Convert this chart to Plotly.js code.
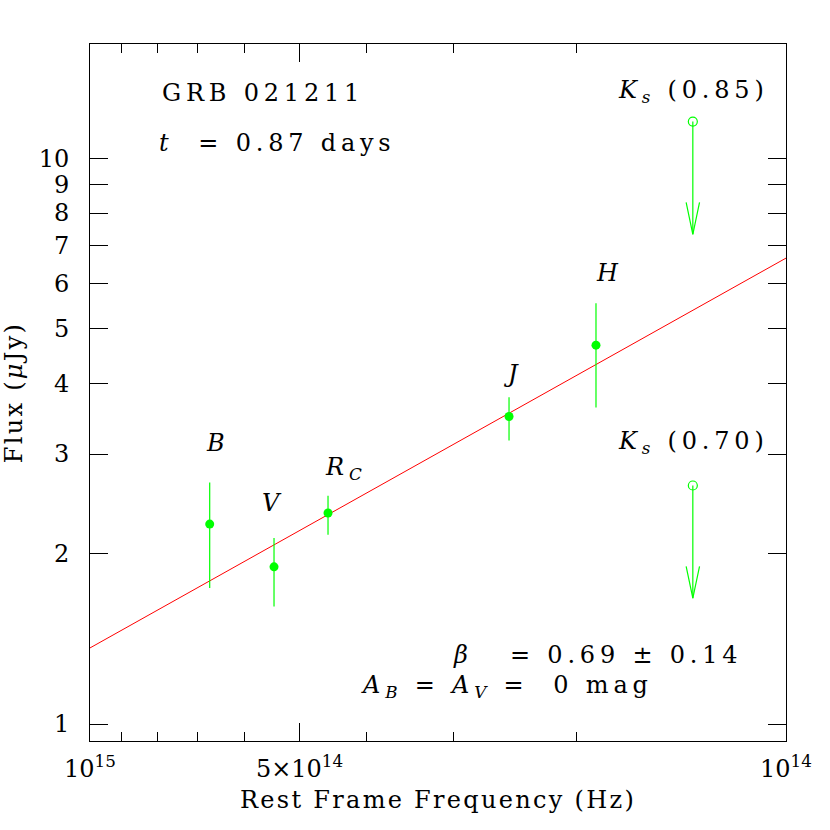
<!DOCTYPE html>
<html>
<head>
<meta charset="utf-8">
<script src="https://cdn.plot.ly/plotly-3.0.1.min.js"></script>
<style>
html, body { margin: 0; padding: 0; background: #ffffff; }
#chart { width: 830px; height: 830px; }
.annotation-text { letter-spacing: 4.8px; }
.xtitle, .ytitle { letter-spacing: 2.3px; }
</style>
</head>
<body>
<div id="chart"></div>
<script>
// ---- data ----
const bandNames = ['B', 'V', 'R<sub>C</sub>', 'J', 'H'];
const bandFreq = [6.73e14, 5.44e14, 4.55e14, 2.50e14, 1.875e14];   // Hz
const bandFlux = [2.256, 1.896, 2.360, 3.495, 4.673];              // microJy
const bandErrHi = [0.415, 0.235, 0.172, 0.287, 0.871];
const bandErrLo = [0.517, 0.282, 0.200, 0.324, 1.047];

const limitNames = ['(0.85)', '(0.70)'];
const limitFreq = [1.361e14, 1.361e14];
const limitFlux = [11.61, 2.640];

const fitFreq = [1e15, 1e14];
const fitFlux = [1.363, 6.66];

const yTickVals = [1, 2, 3, 4, 5, 6, 7, 8, 9, 10];
const xTickVals = [1e15, 5e14, 1e14];
const xTickText = ['10<sup>15</sup>', '5\u00d710<sup>14</sup>', '10<sup>14</sup>'];
const xMinorVals = [9e14, 8e14, 7e14, 6e14, 4e14, 3e14, 2e14];

const titleLine1 = 'GRB 021211';
const titleLine2 = '<i>t</i>\u00a0 = 0.87 days';
const betaText = '<i>\u03b2</i>\u00a0\u00a0 = 0.69 \u00b1 0.14';
const extText = '<i>A</i><sub><i>B</i></sub> = <i>A</i><sub><i>V</i></sub> =\u00a0 0 mag';

// ---- style ----
const FONT = 'DejaVu Serif, Liberation Serif, serif';
const FS = 24;
const GREEN = 'rgb(0,255,0)';
const ARROW_FACTOR = 0.632;     // length of upper-limit arrow (flux ratio)
const HEAD_Y = 1.139;           // arrow head height (flux ratio)
const HEAD_X = 1.0224;          // arrow head half width (freq ratio)

// arrow geometry built from the limit values
const arrX = [], arrY = [];
for (let i = 0; i < limitFreq.length; i++) {
  const f = limitFreq[i], v = limitFlux[i], tip = v * ARROW_FACTOR;
  arrX.push(f, f, null, f * HEAD_X, f, f / HEAD_X, null);
  arrY.push(v, tip, null, tip * HEAD_Y, tip, tip * HEAD_Y, null);
}

const traces = [
  { x: fitFreq, y: fitFlux, mode: 'lines', line: { color: 'rgb(255,0,0)', width: 1 },
    hoverinfo: 'skip', showlegend: false },
  { x: arrX, y: arrY, mode: 'lines', line: { color: GREEN, width: 1.2 },
    hoverinfo: 'skip', showlegend: false },
  { x: limitFreq, y: limitFlux, mode: 'markers',
    marker: { symbol: 'circle-open', size: 9, color: GREEN, line: { width: 1.2, color: GREEN } },
    showlegend: false },
  { x: bandFreq, y: bandFlux, mode: 'markers',
    marker: { symbol: 'circle', size: 9, color: GREEN },
    error_y: { type: 'data', symmetric: false, array: bandErrHi, arrayminus: bandErrLo,
               color: GREEN, thickness: 1.2, width: 0 },
    showlegend: false }
];

const txtFont = { family: FONT, size: FS, color: '#000' };
const annotations = [];
const bandShift = [[8, 40], [-1, 35], [18, 27], [3, 23], [14, 30]];
for (let i = 0; i < bandNames.length; i++) {
  annotations.push({
    x: Math.log10(bandFreq[i]), y: Math.log10(bandFlux[i] + bandErrHi[i]),
    xref: 'x', yref: 'y', text: '<i>' + bandNames[i] + '</i>', showarrow: false,
    xanchor: 'center', yanchor: 'middle', xshift: bandShift[i][0], yshift: bandShift[i][1],
    font: txtFont
  });
}
const limShift = [[-77, 30], [-77, 43]];
for (let i = 0; i < limitNames.length; i++) {
  annotations.push({
    x: Math.log10(limitFreq[i]), y: Math.log10(limitFlux[i]),
    xref: 'x', yref: 'y', text: '<i>K</i><sub><i>s</i></sub> ' + limitNames[i],
    showarrow: false, xanchor: 'left', yanchor: 'middle',
    xshift: limShift[i][0], yshift: limShift[i][1], font: txtFont
  });
}
annotations.push(
  { xref: 'paper', yref: 'paper', x: 0.1005, y: 0.929, text: titleLine1, showarrow: false,
    xanchor: 'left', yanchor: 'middle', font: txtFont },
  { xref: 'paper', yref: 'paper', x: 0.0962, y: 0.858, text: titleLine2, showarrow: false,
    xanchor: 'left', yanchor: 'middle', font: txtFont },
  { xref: 'paper', yref: 'paper', x: 0.518, y: 0.1234, text: betaText, showarrow: false,
    xanchor: 'left', yanchor: 'middle', font: txtFont },
  { xref: 'paper', yref: 'paper', x: 0.387, y: 0.0789, text: extText, showarrow: false,
    xanchor: 'left', yanchor: 'middle', font: txtFont }
);

const layout = {
  width: 830, height: 830,
  margin: { l: 90, r: 44, t: 44, b: 89, pad: 0 },
  paper_bgcolor: '#fff', plot_bgcolor: '#fff',
  showlegend: false,
  font: { family: FONT, size: FS, color: '#000' },
  xaxis: {
    type: 'log', range: [15, 14],
    tickmode: 'array', tickvals: xTickVals, ticktext: xTickText,
    ticks: 'inside', ticklen: 18, tickwidth: 1, tickcolor: '#000',
    minor: { tickmode: 'array', tickvals: xMinorVals, ticks: 'inside', ticklen: 9, tickwidth: 1, tickcolor: '#000', showgrid: false },
    showline: true, linecolor: '#000', linewidth: 1, mirror: 'allticks',
    showgrid: false, zeroline: false,
    tickfont: { family: FONT, size: FS, color: '#000' },
    ticklabelstandoff: 6,
    title: { text: 'Rest Frame Frequency (Hz)', font: { family: FONT, size: FS, color: '#000' }, standoff: 9 }
  },
  yaxis: {
    type: 'log', range: [-0.030, 1.2019],
    tickmode: 'array', tickvals: yTickVals, ticktext: yTickVals.map(String),
    ticks: 'inside', ticklen: 18, tickwidth: 1, tickcolor: '#000',
    showline: true, linecolor: '#000', linewidth: 1, mirror: 'allticks',
    showgrid: false, zeroline: false,
    tickfont: { family: FONT, size: FS, color: '#000' },
    ticklabelstandoff: 15,
    title: { text: 'Flux (<i>\u03bc</i>Jy)', font: { family: FONT, size: FS, color: '#000' }, standoff: 12 }
  },
  annotations: annotations
};

Plotly.newPlot('chart', traces, layout, { staticPlot: true, displayModeBar: false });
</script>
</body>
</html>
